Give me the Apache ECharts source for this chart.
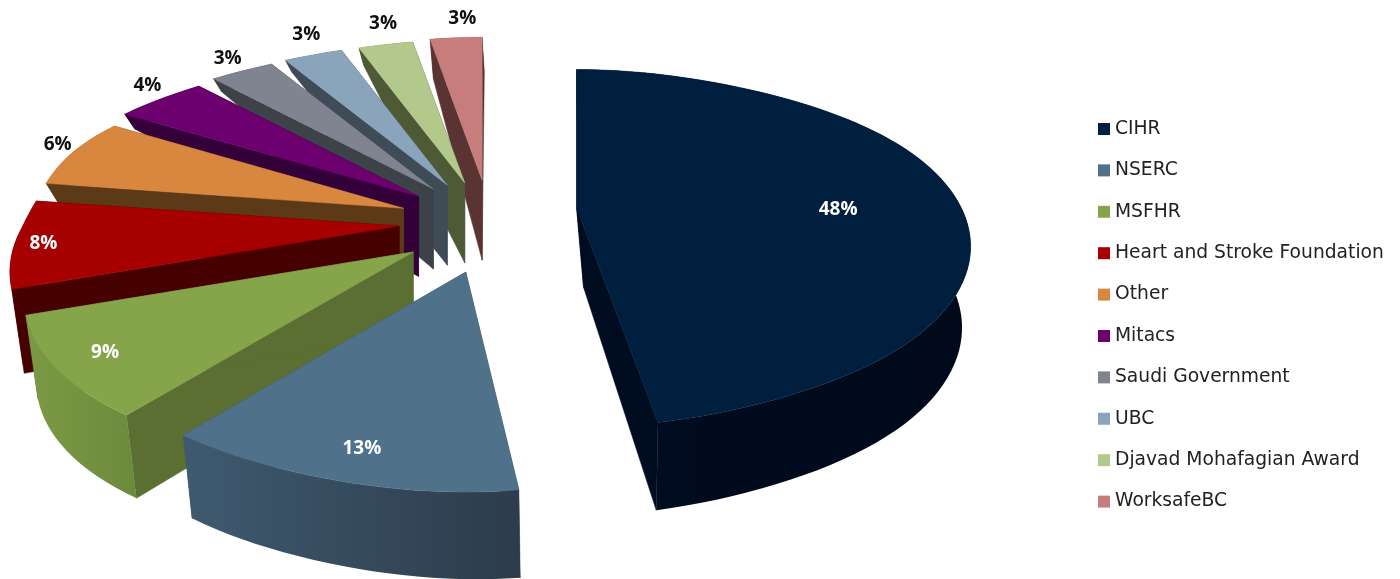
<!DOCTYPE html>
<html><head><meta charset="utf-8">
<style>html,body{margin:0;padding:0;background:#fff}#c{width:1400px;height:579px}</style>
<script src="https://cdn.jsdelivr.net/npm/echarts@6/dist/echarts.min.js"></script>
</head><body><div id="c"></div>
<script>
const categories = ['CIHR','NSERC','MSFHR','Heart and Stroke Foundation','Other','Mitacs','Saudi Government','UBC','Djavad Mohafagian Award','WorksafeBC'];
const values = [48,13,9,8,6,4,3,3,3,3];
const topColors = ['#001f3f','#4f7189','#86a44a','#a60000','#d9873f','#6d006f','#7f8490','#8aa5bb','#b3c98c','#c87d7d'];
const wallColors = ['#000c20','#3a5266','#5a6f31','#470000','#5c3a17','#33003a','#3c4248','#3f4b57','#4d5a35','#5a3333'];
const rimFrom = ['#000c20','#3f5a70','#7c9a45','#470000','#5c3a17','#33003a','#3c4248','#3f4b57','#4d5a35','#5a3333'];
const rimTo = ['#000a1a','#2c3c4b','#6c8a3c','#470000','#5c3a17','#33003a','#3c4248','#3f4b57','#4d5a35','#5a3333'];
const labelColors = ['#fff','#fff','#fff','#fff','#111','#111','#111','#111','#111','#111'];
const labelRadius = [0.70,0.84,0.87,0.92,1.09,1.12,1.12,1.13,1.14,1.15];
const labelShift = [[2,13],[-1,0],[3,0],[-2,1],[21,-3],[18,-2],[8,2],[10,-3],[8,-1],[10,2]];
const sliceNudge = [[-8,-13],[1,1],[0,0],[2,-2],[0,1],[0,2],[0,2],[-1,3],[0,4],[0,3]];
const endTrim = [3.5,0,0,0,0,0,0,0,0,0];
const stretch = [1.012,0.985,1,1,0.985,1,1,1,1,1];
const apexBottomDx = [7,0,0,0,0,0,0,0,0,0];

// view model: perspective disc, exploded slices, extrusion depth by angle
const view = {cx:491, cy:225, ex:94, ey:48, a:380, b:169.6, kx:0.218, ky:0.229, pinch:0.12, apexDepth:80, vpx:580, conv:0.022};
const depthByAngle = [[0,35],[90,80],[172,88],[220,83],[252,84],[270,70],[281,18],[302,15],[317,13],[328,12],[338,17],[349,40],[360,35]];

const total = values.reduce((s,v)=>s+v,0);
function rimDepth(deg){
  for(let i=1;i<depthByAngle.length;i++){
    const p=depthByAngle[i-1],q=depthByAngle[i];
    if(deg<=q[0]) return p[1]+(q[1]-p[1])*(deg-p[0])/(q[0]-p[0]);
  }
  return 35;
}
function disc(deg,r){
  const t=deg*Math.PI/180,u=Math.sin(t),v=-Math.cos(t),left=u<0;
  const pinch=v>0?1-view.pinch*Math.pow(v,8):1-view.pinch*v*v*v*v;
  const sb=left&&v<0?Math.sin(Math.PI*Math.min(1,-v/0.93)):0;
  const bulge=1+0.035*sb*sb;
  const s=Math.min(1,Math.max(0,-v/0.85)), ss=s*s*(3-2*s);
  const dy=!left?0:(v>=0?7*(1-v*v*v*v):7-12*ss);
  return [r*view.a*u*pinch*bulge/(1-view.kx*v), r*(view.b*v/(1-view.ky*v)+dy)];
}
function drop(x,y,d){ return [x-(x-view.vpx)*view.conv, y+d]; }

function sliceItem(i, api){
  const start=values.slice(0,i).reduce((s,v)=>s+v,0)/total*360;
  const end=start+values[i]/total*360-endTrim[i], mid=(start+end)/2, t=mid*Math.PI/180;
  const ax=view.cx+view.ex*Math.sin(t)+sliceNudge[i][0], ay=view.cy-view.ey*Math.cos(t)+sliceNudge[i][1];
  const n=Math.max(6,Math.round((end-start)/2));
  const top=[],bottom=[];
  for(let j=0;j<=n;j++){
    const deg=start+(end-start)*j/n, p=disc(deg,1), x=ax+p[0]*stretch[i], y=ay+p[1];
    top.push([x,y]); bottom.push(drop(x,y,rimDepth(deg)));
  }
  const aTop=[ax,ay], aBot=[ax+apexBottomDx[i],ay+view.apexDepth];
  const px=pts=>pts.map(p=>api.coord(p));
  const wall=pts=>({type:'polygon',shape:{points:px(pts)},style:{fill:wallColors[i],stroke:wallColors[i],lineWidth:0.5}});
  const rim=top.concat(bottom.slice().reverse());
  const grad={type:'linear',x:0,y:0,x2:1,y2:0,colorStops:[{offset:0,color:rimFrom[i]},{offset:1,color:rimTo[i]}]};
  const lp=disc(mid,labelRadius[i]);
  const lc=api.coord([ax+lp[0]+labelShift[i][0],ay+lp[1]+labelShift[i][1]]);
  return {type:'group',children:[
    wall([aTop,top[0],bottom[0],aBot]),
    wall([aTop,top[n],bottom[n],aBot]),
    {type:'polygon',shape:{points:px(rim)},style:{fill:grad}},
    {type:'polygon',shape:{points:px([aTop].concat(top))},style:{fill:topColors[i],stroke:topColors[i],lineWidth:0.5}},
    {type:'text',style:{text:values[i]+'%',x:lc[0],y:lc[1],fill:labelColors[i],fontSize:19,fontWeight:'bold',fontFamily:'"Open Sans"',align:'center',verticalAlign:'middle'}}
  ]};
}

const chart=echarts.init(document.getElementById('c'),null,{renderer:'canvas'});
chart.setOption({
  animation:false,
  backgroundColor:'#fff',
  grid:{left:0,right:0,top:0,bottom:0},
  xAxis:{type:'value',min:0,max:1400,show:false},
  yAxis:{type:'value',min:0,max:579,inverse:true,show:false},
  legend:{
    orient:'vertical',left:1093,top:114,itemWidth:12,itemHeight:12,itemGap:21.4,icon:'rect',
    textStyle:{fontFamily:'"DejaVu Sans"',fontSize:18.7,color:'#222',lineHeight:20},
    data:categories
  },
  series:categories.map((name,i)=>({
    type:'custom',name,coordinateSystem:'cartesian2d',clip:false,
    z:i===0?1:12-i,
    itemStyle:{color:topColors[i]},
    data:[[values[i],i]],
    renderItem:(params,api)=>sliceItem(i,api)
  }))
});
</script></body></html>
